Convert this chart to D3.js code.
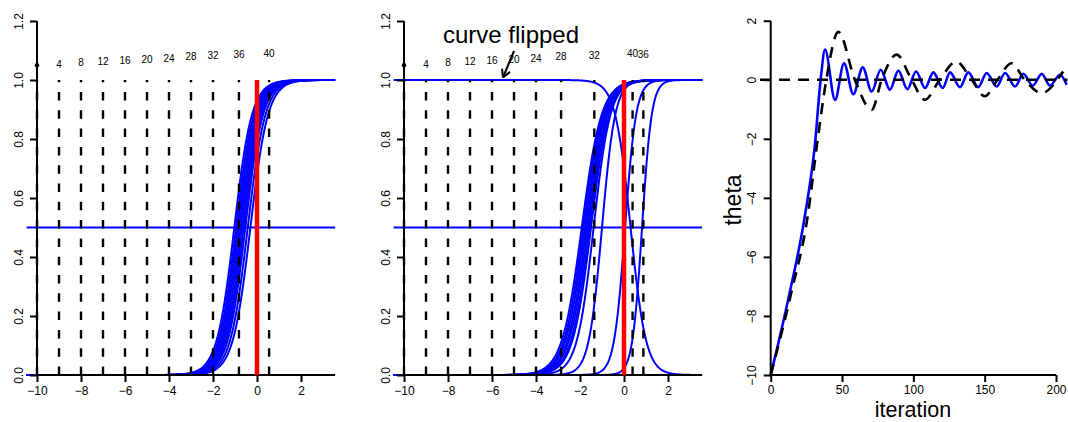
<!DOCTYPE html>
<html><head><meta charset="utf-8">
<script src="https://cdn.jsdelivr.net/npm/d3@7"></script>
<style>body{margin:0;background:#fff} text{font-family:"Liberation Sans",Arial,sans-serif;fill:#000}</style>
</head><body><svg id="c" width="1068" height="422"></svg>
<script>
// ---- data ----
const iterLabels = [0, 4, 8, 12, 16, 20, 24, 28, 32, 36, 40];
const theta1 = [-10, -9, -8, -7, -6, -5, -4, -3, -2, -0.82, 0.55];
const theta2 = [-10, -9, -8, -7, -6, -5, -4, -2.86, -1.35, 0.88, 0.39];
const centers1 = [-1.03, -0.95, -0.88, -0.81, -0.74, -0.67, -0.6, -0.53, -0.42, -0.3];
const spread1 = [0.4, 0.4, 0.4, 0.4, 0.4, 0.4, 0.4, 0.4, 0.4, 0.4];
const centers2Up = [-1.92, -1.85, -1.78, -1.71, -1.64, -1.57, -1.5, -1.38, -1.0, 0.05, 0.82];
const spread2Up = [0.45, 0.44, 0.44, 0.43, 0.43, 0.42, 0.42, 0.38, 0.3, 0.25, 0.22];
const centers2Down = [0.3];
const spread2Down = [0.35];
const xTicks12 = [-10, -8, -6, -4, -2, 0, 2];
const yTicks12 = [0, 0.2, 0.4, 0.6, 0.8, 1.0, 1.2];
const blueIter  = [0, 12, 24, 31, 35, 38.1, 45.1, 51.4, 57.9, 64.5, 70.8, 77.1, 83.6, 89.5, 95.8, 101.9, 108.2, 114, 120.6, 125.7, 132.7, 138.5, 145.5, 151.4, 158.4, 164.3, 171.3, 177.1, 183.7, 190, 195.8, 202.8, 207.5];
const blueTheta = [-10, -7.5, -4.6, -2.2, 0, 1.02, -0.68, 0.56, -0.49, 0.42, -0.40, 0.34, -0.34, 0.31, -0.32, 0.28, -0.28, 0.25, -0.28, 0.25, -0.25, 0.25, -0.25, 0.23, -0.23, 0.23, -0.23, 0.2, -0.2, 0.2, -0.2, 0.17, -0.17];
const blackIter  = [0, 14, 26, 33, 39, 47.4, 59, 70.8, 77.8, 88.3, 98.8, 108, 118.5, 130, 140.9, 150, 159, 168.8, 178, 190, 201, 205];
const blackTheta = [-10, -7.3, -4.6, -2, 0, 1.62, 0, -1.02, 0, 0.85, 0, -0.68, 0, 0.62, 0, -0.56, 0, 0.56, 0, -0.45, 0, 0.28];
const xTicks3 = [0, 50, 100, 150, 200];
const yTicks3 = [-10, -8, -6, -4, -2, 0, 2];

const svg = d3.select("#c");
const MINUS = s => String(s).replace("-", "\u2212");
const xMin = -10.47, xMax = 3.55;
const grid = d3.range(xMin, xMax + 0.001, 0.02);

function rotLabels(axisG, dx) {
  axisG.selectAll("text").attr("font-size", 12).attr("text-anchor", "middle")
    .attr("x", 0).attr("y", 0).attr("dy", 0)
    .attr("transform", `translate(${dx},0) rotate(-90)`);
}

function panel(x0px, thetas, ups, upS, downs, downS, ylabX, annotate) {
  const x = d3.scaleLinear().domain([-10, 0]).range([x0px, x0px + 220]);
  const y = d3.scaleLinear().domain([0, 1.2]).range([375, 21]);
  const g = svg.append("g");
  const line = d3.line().x(d => x(d[0])).y(d => y(d[1]));
  ups.forEach((c, i) => {
    const s = upS[i];
    g.append("path").attr("d", line(grid.map(v => [v, 1 / (1 + Math.exp(-(v - c) / s))])))
      .attr("fill", "none").attr("stroke", "#0000ff").attr("stroke-width", 2);
  });
  downs.forEach((c, i) => {
    const s = downS[i];
    g.append("path").attr("d", line(grid.map(v => [v, 1 - 1 / (1 + Math.exp(-(v - c) / s))])))
      .attr("fill", "none").attr("stroke", "#0000ff").attr("stroke-width", 2);
  });
  g.append("line").attr("x1", x(xMin)).attr("x2", x(xMax)).attr("y1", y(0.5)).attr("y2", y(0.5))
    .attr("stroke", "#0000ff").attr("stroke-width", 2);
  const xa = g.append("g").attr("transform", `translate(0,${y(0)})`)
    .call(d3.axisBottom(x).tickValues(xTicks12).tickSize(7).tickPadding(4).tickFormat(MINUS));
  xa.select(".domain").remove();
  xa.selectAll("line").attr("stroke-width", 2);
  xa.selectAll("text").attr("font-size", 12);
  g.append("line").attr("x1", x(-10)).attr("x2", x(xMax)).attr("y1", y(0)).attr("y2", y(0))
    .attr("stroke", "#000").attr("stroke-width", 2);
  const ya = g.append("g").attr("transform", `translate(${x(-10)},0)`)
    .call(d3.axisLeft(y).tickValues(yTicks12).tickSize(7).tickFormat(d3.format(".1f")));
  ya.select(".domain").attr("d", `M0,${y(0)}V${y(1.2)}`).attr("stroke-width", 2);
  ya.selectAll("line").attr("stroke-width", 2);
  rotLabels(ya, ylabX - x(-10));
  thetas.forEach((t, i) => {
    g.append("line").attr("x1", x(t)).attr("x2", x(t)).attr("y1", y(0)).attr("y2", y(1))
      .attr("stroke", "#000").attr("stroke-width", 2.4).attr("stroke-dasharray", "8.5,9.8");
    if (iterLabels[i] === 0) {
      g.append("circle").attr("cx", x(t)).attr("cy", y(1.05)).attr("r", 2.2).attr("fill", "#000");
    } else {
      g.append("text").attr("x", x(t)).attr("y", y(1.05 + iterLabels[i] / 1000)).attr("dy", "0.35em")
        .attr("text-anchor", "middle").attr("font-size", 10).text(iterLabels[i]);
    }
  });
  g.append("line").attr("x1", x(0)).attr("x2", x(0)).attr("y1", y(0)).attr("y2", y(1))
    .attr("stroke", "#ff0000").attr("stroke-width", 4.5);
  if (annotate) annotate(g, x, y);
}

panel(37, theta1, centers1, spread1, [], [], 22.6);
panel(404, theta2, centers2Up, spread2Up, centers2Down, spread2Down, 389.5, (g, x, y) => {
  g.append("text").attr("x", 511).attr("y", 42.7).attr("text-anchor", "middle").attr("font-size", 24).text("curve flipped");
  const ax1 = 514, ay1 = 51, ax2 = 503, ay2 = 77.5;
  g.append("line").attr("x1", ax1).attr("y1", ay1).attr("x2", ax2).attr("y2", ay2).attr("stroke", "#000").attr("stroke-width", 2);
  const ang = Math.atan2(ay2 - ay1, ax2 - ax1);
  [-0.5, 0.5].forEach(da => {
    g.append("line").attr("x1", ax2).attr("y1", ay2)
      .attr("x2", ax2 - 9 * Math.cos(ang + da)).attr("y2", ay2 - 9 * Math.sin(ang + da))
      .attr("stroke", "#000").attr("stroke-width", 2);
  });
});

// ---- panel 3 ----
(function () {
  const x = d3.scaleLinear().domain([0, 200]).range([770.7, 1056]);
  const y = d3.scaleLinear().domain([-10, 2]).range([375, 20.7]);
  const g = svg.append("g");
  const line = d3.line().x(d => x(d[0])).y(d => y(d[1])).curve(d3.curveMonotoneX);
  g.append("path").attr("d", line(blueIter.map((v, i) => [v, blueTheta[i]])))
    .attr("fill", "none").attr("stroke", "#0000ff").attr("stroke-width", 2.6);
  g.append("path").attr("d", line(blackIter.map((v, i) => [v, blackTheta[i]])))
    .attr("fill", "none").attr("stroke", "#000").attr("stroke-width", 2.6).attr("stroke-dasharray", "11,8");
  g.append("line").attr("x1", x(-7.5)).attr("x2", x(208)).attr("y1", y(0)).attr("y2", y(0))
    .attr("stroke", "#000").attr("stroke-width", 2.6).attr("stroke-dasharray", "11,8");
  const xa = g.append("g").attr("transform", `translate(0,${y(-10)})`)
    .call(d3.axisBottom(x).tickValues(xTicks3).tickSize(7).tickPadding(3));
  xa.select(".domain").attr("d", `M${x(0)},0H${x(200)}`).attr("stroke-width", 2);
  xa.selectAll("line").attr("stroke-width", 2);
  xa.selectAll("text").attr("font-size", 12);
  const ya = g.append("g").attr("transform", `translate(${x(0)},0)`)
    .call(d3.axisLeft(y).tickValues(yTicks3).tickSize(7).tickFormat(MINUS));
  ya.select(".domain").attr("d", `M0,${y(-10)}V${y(2)}`).attr("stroke-width", 2);
  ya.selectAll("line").attr("stroke-width", 2);
  rotLabels(ya, 756 - x(0));
  g.append("text").attr("x", 913).attr("y", 417).attr("text-anchor", "middle").attr("font-size", 21.5).text("iteration");
  g.append("text").attr("transform", "translate(741,200) rotate(-90)").attr("text-anchor", "middle").attr("font-size", 23).text("theta");
})();
</script></body></html>
